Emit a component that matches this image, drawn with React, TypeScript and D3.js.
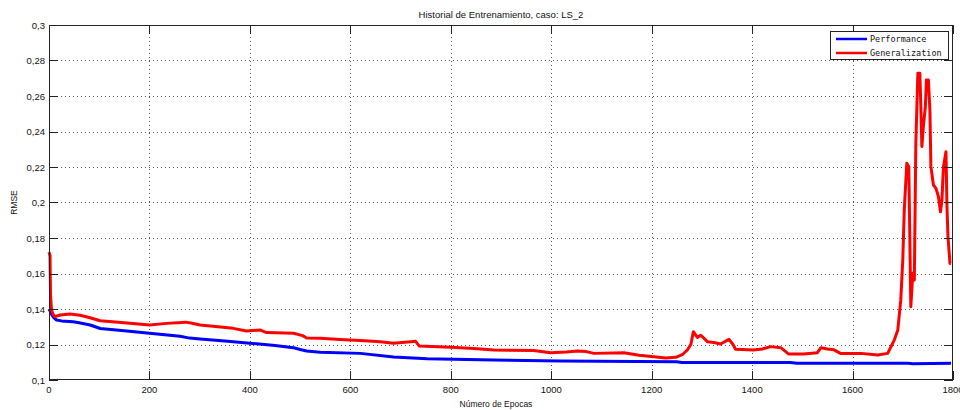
import React from "react";
import * as d3 from "d3";

// Training history, case LS_2: RMSE per epoch for the two data sets.
const perfEpochs = [0, 3, 6, 10, 15, 25, 48, 60, 82, 102, 150, 200, 261, 280, 301, 350, 400, 450, 487, 500, 513, 540, 620, 686, 753, 886, 1019, 1172, 1250, 1260, 1476, 1490, 1710, 1720, 1796];
const perfValues = [0.14, 0.1385, 0.1365, 0.135, 0.1338, 0.1333, 0.1328, 0.1322, 0.131, 0.129, 0.1278, 0.1263, 0.1246, 0.1236, 0.1231, 0.122, 0.1207, 0.1195, 0.1182, 0.1172, 0.1163, 0.1157, 0.115, 0.113, 0.112, 0.1113, 0.1107, 0.1104, 0.1103, 0.1099, 0.1098, 0.1094, 0.1094, 0.1092, 0.1094];

const genEpochs = [0, 2, 3, 5, 8, 12, 22, 42, 62, 80, 102, 150, 200, 235, 272, 285, 301, 367, 393, 420, 433, 487, 505, 513, 540, 580, 620, 660, 686, 720, 730, 737, 800, 846, 886, 965, 999, 1030, 1052, 1070, 1085, 1145, 1175, 1204, 1228, 1248, 1262, 1271, 1278, 1283, 1291, 1298, 1311, 1324, 1337, 1354, 1362, 1367, 1403, 1420, 1437, 1457, 1473, 1503, 1530, 1537, 1550, 1563, 1576, 1617, 1650, 1670, 1683, 1690, 1696, 1700, 1703, 1708, 1712, 1714, 1716, 1720, 1723, 1726, 1730, 1734, 1736, 1738, 1741, 1745, 1747, 1751, 1754, 1756, 1761, 1766, 1771, 1775, 1778, 1781, 1786, 1788, 1790, 1794, 1796];
const genValues = [0.172, 0.17, 0.148, 0.1394, 0.137, 0.1357, 0.1366, 0.1372, 0.1365, 0.1352, 0.1334, 0.1322, 0.131, 0.1319, 0.1326, 0.132, 0.131, 0.1291, 0.1276, 0.1282, 0.1267, 0.1263, 0.125, 0.1237, 0.1235, 0.1228, 0.1222, 0.1216, 0.1207, 0.1216, 0.1218, 0.1192, 0.1184, 0.1178, 0.1169, 0.1166, 0.1154, 0.1158, 0.1163, 0.116, 0.115, 0.1154, 0.114, 0.1131, 0.1124, 0.1128, 0.1145, 0.1169, 0.12, 0.1272, 0.124, 0.1252, 0.1216, 0.1211, 0.1203, 0.1229, 0.12, 0.1173, 0.1169, 0.1175, 0.1188, 0.1182, 0.1146, 0.1146, 0.1154, 0.1182, 0.1175, 0.117, 0.115, 0.115, 0.1141, 0.115, 0.1225, 0.128, 0.145, 0.1676, 0.1958, 0.2221, 0.2202, 0.1807, 0.1413, 0.1601, 0.1563, 0.2333, 0.2728, 0.2728, 0.254, 0.2315, 0.2427, 0.254, 0.269, 0.269, 0.2521, 0.2202, 0.2099, 0.208, 0.2033, 0.1948, 0.2014, 0.2202, 0.2286, 0.1977, 0.1807, 0.1657, 0.1657];

const xTicks = [0, 200, 400, 600, 800, 1000, 1200, 1400, 1600, 1800];
const yTicks = [0.1, 0.12, 0.14, 0.16, 0.18, 0.2, 0.22, 0.24, 0.26, 0.28, 0.3];
const seriesNames = ["Performance", "Generalization"];
const seriesColors = ["#0000ff", "#ff0000"];

const W = 960;
const H = 410;
const left = 49;
const right = 953;
const top = 25;
const bottom = 380;
const tickLen = 9;
const sans = "'Liberation Sans', Arial, sans-serif";
const mono = "'DejaVu Sans Mono', monospace";

const fmtY = (v: number) => String(+v.toFixed(2)).replace(".", ",");

export default function App() {
  const x = d3.scaleLinear().domain([0, 1800]).range([left, right]);
  const y = d3.scaleLinear().domain([0.1, 0.3]).range([bottom, top]);

  const line = d3
    .line<[number, number]>()
    .x((d) => x(d[0]))
    .y((d) => y(d[1]));

  const perf = perfEpochs.map((e, i) => [e, perfValues[i]] as [number, number]);
  const gen = genEpochs.map((e, i) => [e, genValues[i]] as [number, number]);

  const legX = 830;
  const legY = 31;

  return (
    <svg
      width={W}
      height={H}
      style={{ position: "fixed", left: 0, top: 0, background: "#fff" }}
    >
      <rect x={0} y={0} width={W} height={H} fill="#fff" />
      <text x={(left + right) / 2} y={18} textAnchor="middle" fontFamily={sans} fontSize={9.5} fill="#111">
        Historial de Entrenamiento, caso: LS_2
      </text>

      {/* grid */}
      <g stroke="#555" strokeWidth={1} strokeDasharray="1 3" shapeRendering="crispEdges">
        {xTicks.slice(1, -1).map((t) => (
          <line key={"gx" + t} x1={Math.round(x(t)) + 0.5} x2={Math.round(x(t)) + 0.5} y1={top} y2={bottom} />
        ))}
        {yTicks.slice(1, -1).map((t) => (
          <line key={"gy" + t} x1={left} x2={right} y1={Math.round(y(t)) + 0.5} y2={Math.round(y(t)) + 0.5} />
        ))}
      </g>

      {/* series */}
      <path d={line(perf) || ""} fill="none" stroke={seriesColors[0]} strokeWidth={3} strokeLinejoin="round" />
      <path d={line(gen) || ""} fill="none" stroke={seriesColors[1]} strokeWidth={3} strokeLinejoin="round" />

      {/* frame and inward ticks */}
      <g stroke="#222" strokeWidth={1} shapeRendering="crispEdges">
        <rect x={left + 0.5} y={top + 0.5} width={right - left - 1} height={bottom - top - 1} fill="none" />
        {xTicks.map((t) => (
          <g key={"tx" + t}>
            <line x1={Math.round(x(t)) + 0.5} x2={Math.round(x(t)) + 0.5} y1={bottom} y2={bottom - tickLen} />
            <line x1={Math.round(x(t)) + 0.5} x2={Math.round(x(t)) + 0.5} y1={top} y2={top + tickLen} />
          </g>
        ))}
        {yTicks.map((t) => (
          <g key={"ty" + t}>
            <line x1={left} x2={left + tickLen} y1={Math.round(y(t)) + 0.5} y2={Math.round(y(t)) + 0.5} />
            <line x1={right} x2={right - tickLen} y1={Math.round(y(t)) + 0.5} y2={Math.round(y(t)) + 0.5} />
          </g>
        ))}
      </g>

      {/* tick labels */}
      <g fontFamily={sans} fontSize={9.5} fill="#111">
        {xTicks.map((t) => (
          <text key={"lx" + t} x={x(t)} y={bottom + 13} textAnchor="middle">
            {t}
          </text>
        ))}
        {yTicks.map((t) => (
          <text key={"ly" + t} x={left - 4} y={y(t) + 3.5} textAnchor="end">
            {fmtY(t)}
          </text>
        ))}
      </g>

      {/* axis labels */}
      <text x={(left + right) / 2 - 5} y={407} textAnchor="middle" fontFamily={sans} fontSize={8.5} fill="#111">
        Número de Epocas
      </text>
      <text
        transform={`translate(17, ${(top + bottom) / 2}) rotate(-90)`}
        textAnchor="middle"
        fontFamily={sans}
        fontSize={8.5}
        fill="#111"
      >
        RMSE
      </text>

      {/* legend */}
      <rect x={legX + 0.5} y={legY + 0.5} width={118} height={28} fill="#fff" stroke="#222" shapeRendering="crispEdges" />
      {seriesNames.map((name, i) => (
        <g key={name}>
          <line x1={836} x2={867} y1={legY + 8 + i * 14} y2={legY + 8 + i * 14} stroke={seriesColors[i]} strokeWidth={2.5} />
          <text x={870} y={legY + 11 + i * 14} fontFamily={mono} fontSize={8.5} fill="#111">
            {name}
          </text>
        </g>
      ))}
    </svg>
  );
}
